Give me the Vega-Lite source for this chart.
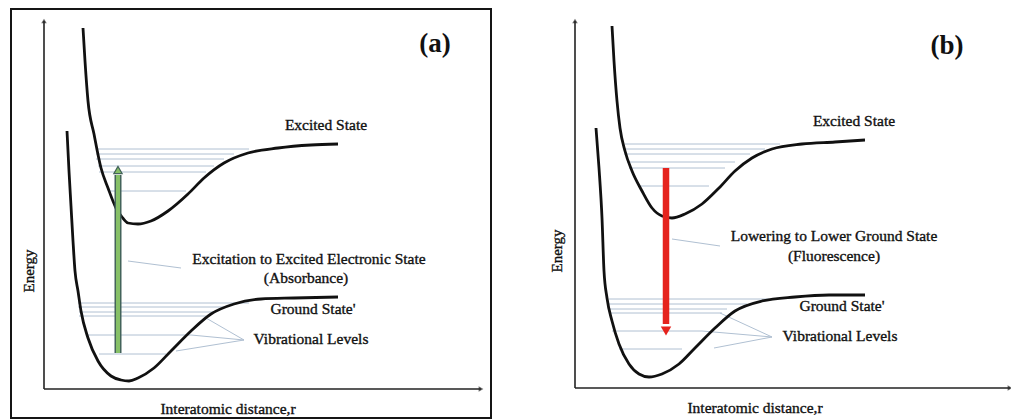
{
  "$schema": "https://vega.github.io/schema/vega-lite/v6.json",
  "padding": {"left": 10, "top": 8, "right": 0, "bottom": 2},
  "spacing": 48,
  "background": "white",
  "config": {
    "view": {"stroke": "#151515", "strokeWidth": 2},
    "font": "Liberation Serif",
    "text": {"font": "Liberation Serif", "color": "#111", "stroke": "#111", "strokeWidth": 0.35}
  },
  "datasets": {
    "curvesA": [
      {"state": "excited", "i": 0, "r": 39, "E": 361}, {"state": "excited", "i": 1, "r": 41, "E": 328},
      {"state": "excited", "i": 2, "r": 44, "E": 288}, {"state": "excited", "i": 3, "r": 50, "E": 255},
      {"state": "excited", "i": 4, "r": 57, "E": 221}, {"state": "excited", "i": 5, "r": 64, "E": 201},
      {"state": "excited", "i": 6, "r": 72, "E": 181}, {"state": "excited", "i": 7, "r": 78, "E": 172},
      {"state": "excited", "i": 8, "r": 84, "E": 166}, {"state": "excited", "i": 9, "r": 94, "E": 165},
      {"state": "excited", "i": 10, "r": 107, "E": 168}, {"state": "excited", "i": 11, "r": 124, "E": 178},
      {"state": "excited", "i": 12, "r": 144, "E": 195}, {"state": "excited", "i": 13, "r": 160, "E": 211},
      {"state": "excited", "i": 14, "r": 180, "E": 226}, {"state": "excited", "i": 15, "r": 204, "E": 236},
      {"state": "excited", "i": 16, "r": 234, "E": 241}, {"state": "excited", "i": 17, "r": 267, "E": 244},
      {"state": "excited", "i": 18, "r": 294, "E": 245},
      {"state": "ground", "i": 0, "r": 23, "E": 258}, {"state": "ground", "i": 1, "r": 25, "E": 218},
      {"state": "ground", "i": 2, "r": 27, "E": 183}, {"state": "ground", "i": 3, "r": 29, "E": 148},
      {"state": "ground", "i": 4, "r": 31, "E": 118}, {"state": "ground", "i": 5, "r": 34, "E": 98},
      {"state": "ground", "i": 6, "r": 37, "E": 78}, {"state": "ground", "i": 7, "r": 44, "E": 51},
      {"state": "ground", "i": 8, "r": 54, "E": 28}, {"state": "ground", "i": 9, "r": 67, "E": 13},
      {"state": "ground", "i": 10, "r": 77, "E": 9}, {"state": "ground", "i": 11, "r": 85, "E": 8},
      {"state": "ground", "i": 12, "r": 94, "E": 11}, {"state": "ground", "i": 13, "r": 110, "E": 21},
      {"state": "ground", "i": 14, "r": 127, "E": 38}, {"state": "ground", "i": 15, "r": 147, "E": 58},
      {"state": "ground", "i": 16, "r": 167, "E": 75}, {"state": "ground", "i": 17, "r": 190, "E": 85},
      {"state": "ground", "i": 18, "r": 217, "E": 90}, {"state": "ground", "i": 19, "r": 250, "E": 91},
      {"state": "ground", "i": 20, "r": 294, "E": 92}
    ],
    "levelsA": [
      {"state": "excited", "E": 240, "r0": 53, "r1": 205},
      {"state": "excited", "E": 235, "r0": 52, "r1": 190},
      {"state": "excited", "E": 230, "r0": 52, "r1": 180},
      {"state": "excited", "E": 223, "r0": 54, "r1": 170},
      {"state": "excited", "E": 217, "r0": 55, "r1": 162},
      {"state": "excited", "E": 198, "r0": 64, "r1": 142},
      {"state": "ground", "E": 86, "r0": 34, "r1": 205},
      {"state": "ground", "E": 82, "r0": 34, "r1": 182},
      {"state": "ground", "E": 77, "r0": 35, "r1": 172},
      {"state": "ground", "E": 73, "r0": 35, "r1": 162},
      {"state": "ground", "E": 54, "r0": 43, "r1": 147},
      {"state": "ground", "E": 35, "r0": 55, "r1": 122}
    ],
    "leadersA": [
      {"r": 84, "E": 128, "r2": 137, "E2": 121},
      {"r": 162, "E": 71, "r2": 200, "E2": 49},
      {"r": 147, "E": 54, "r2": 200, "E2": 49},
      {"r": 132, "E": 38, "r2": 200, "E2": 49}
    ],
    "axesA": [
      {"axis": "energy", "r": 0, "E": 0, "r2": 0, "E2": 368},
      {"axis": "distance", "r": 0, "E": 0, "r2": 437, "E2": 0}
    ],
    "transitionA": [{"name": "absorbance", "r": 74, "E0": 36, "E1": 214, "tip": 219}],
    "labelsA": [
      {"text": "Excited State", "r": 282, "E": 264},
      {"text": "Excitation to Excited Electronic State", "r": 265, "E": 130},
      {"text": "(Absorbance)", "r": 262, "E": 111},
      {"text": "Ground State'", "r": 269, "E": 80},
      {"text": "Vibrational Levels", "r": 267, "E": 50},
      {"text": "Interatomic distance,r", "r": 184, "E": -20}
    ],
    "tagA": [{"text": "(a)", "r": 391, "E": 345}],
    "energyA": [{"text": "Energy", "r": -15, "E": 118}],

    "curvesB": [
      {"state": "excited", "i": 0, "r": 37, "E": 362}, {"state": "excited", "i": 1, "r": 39, "E": 327},
      {"state": "excited", "i": 2, "r": 42, "E": 287}, {"state": "excited", "i": 3, "r": 45, "E": 260},
      {"state": "excited", "i": 4, "r": 50, "E": 237}, {"state": "excited", "i": 5, "r": 57, "E": 217},
      {"state": "excited", "i": 6, "r": 67, "E": 197}, {"state": "excited", "i": 7, "r": 77, "E": 180},
      {"state": "excited", "i": 8, "r": 87, "E": 172}, {"state": "excited", "i": 9, "r": 97, "E": 170},
      {"state": "excited", "i": 10, "r": 110, "E": 174}, {"state": "excited", "i": 11, "r": 127, "E": 184},
      {"state": "excited", "i": 12, "r": 144, "E": 200}, {"state": "excited", "i": 13, "r": 160, "E": 217},
      {"state": "excited", "i": 14, "r": 177, "E": 230}, {"state": "excited", "i": 15, "r": 197, "E": 239},
      {"state": "excited", "i": 16, "r": 227, "E": 244}, {"state": "excited", "i": 17, "r": 260, "E": 246},
      {"state": "excited", "i": 18, "r": 290, "E": 248},
      {"state": "ground", "i": 0, "r": 21, "E": 260}, {"state": "ground", "i": 1, "r": 24, "E": 220},
      {"state": "ground", "i": 2, "r": 27, "E": 170}, {"state": "ground", "i": 3, "r": 29, "E": 117},
      {"state": "ground", "i": 4, "r": 32, "E": 90}, {"state": "ground", "i": 5, "r": 37, "E": 67},
      {"state": "ground", "i": 6, "r": 44, "E": 44}, {"state": "ground", "i": 7, "r": 54, "E": 24},
      {"state": "ground", "i": 8, "r": 64, "E": 14}, {"state": "ground", "i": 9, "r": 74, "E": 11},
      {"state": "ground", "i": 10, "r": 87, "E": 14}, {"state": "ground", "i": 11, "r": 104, "E": 24},
      {"state": "ground", "i": 12, "r": 120, "E": 40}, {"state": "ground", "i": 13, "r": 140, "E": 60},
      {"state": "ground", "i": 14, "r": 160, "E": 77}, {"state": "ground", "i": 15, "r": 187, "E": 87},
      {"state": "ground", "i": 16, "r": 220, "E": 91}, {"state": "ground", "i": 17, "r": 254, "E": 93},
      {"state": "ground", "i": 18, "r": 290, "E": 93}
    ],
    "levelsB": [
      {"state": "excited", "E": 244, "r0": 50, "r1": 205},
      {"state": "excited", "E": 239, "r0": 49, "r1": 190},
      {"state": "excited", "E": 234, "r0": 49, "r1": 175},
      {"state": "excited", "E": 226, "r0": 52, "r1": 160},
      {"state": "excited", "E": 220, "r0": 54, "r1": 150},
      {"state": "excited", "E": 202, "r0": 64, "r1": 134},
      {"state": "ground", "E": 89, "r0": 34, "r1": 194},
      {"state": "ground", "E": 84, "r0": 34, "r1": 172},
      {"state": "ground", "E": 79, "r0": 34, "r1": 152},
      {"state": "ground", "E": 75, "r0": 35, "r1": 147},
      {"state": "ground", "E": 57, "r0": 37, "r1": 127},
      {"state": "ground", "E": 39, "r0": 44, "r1": 107}
    ],
    "leadersB": [
      {"r": 97, "E": 149, "r2": 145, "E2": 142},
      {"r": 145, "E": 75, "r2": 197, "E2": 51},
      {"r": 127, "E": 57, "r2": 197, "E2": 51},
      {"r": 139, "E": 40, "r2": 197, "E2": 51}
    ],
    "axesB": [
      {"axis": "energy", "r": 0, "E": 0, "r2": 0, "E2": 367},
      {"axis": "distance", "r": 0, "E": 0, "r2": 435, "E2": 0}
    ],
    "transitionB": [{"name": "fluorescence", "r": 91, "E0": 220, "E1": 64, "tip": 57}],
    "labelsB": [
      {"text": "Excited State", "r": 279, "E": 267},
      {"text": "Lowering to Lower Ground State", "r": 259, "E": 152},
      {"text": "(Fluorescence)", "r": 259, "E": 132},
      {"text": "Ground State'", "r": 267, "E": 82},
      {"text": "Vibrational Levels", "r": 265, "E": 52},
      {"text": "Interatomic distance,r", "r": 180, "E": -20}
    ],
    "tagB": [{"text": "(b)", "r": 372, "E": 342}],
    "energyB": [{"text": "Energy", "r": -18, "E": 137}]
  },
  "hconcat": [
    {
      "width": 480,
      "height": 409,
      "encoding": {
        "x": {"field": "r", "type": "quantitative", "scale": {"domain": [-33, 447], "nice": false, "zero": false}, "axis": null},
        "y": {"field": "E", "type": "quantitative", "scale": {"domain": [-29, 380], "nice": false, "zero": false}, "axis": null}
      },
      "layer": [
        {
          "data": {"name": "levelsA"},
          "mark": {"type": "rule", "stroke": "#b0c0d2", "strokeWidth": 1},
          "encoding": {"x": {"field": "r0", "type": "quantitative"}, "x2": {"field": "r1"}, "y": {"field": "E", "type": "quantitative"}}
        },
        {
          "data": {"name": "leadersA"},
          "mark": {"type": "rule", "stroke": "#b0c0d2", "strokeWidth": 1},
          "encoding": {"x2": {"field": "r2"}, "y2": {"field": "E2"}}
        },
        {
          "data": {"name": "curvesA"},
          "mark": {"type": "line", "stroke": "#111", "strokeWidth": 2.8, "interpolate": "monotone"},
          "encoding": {"detail": {"field": "state"}, "order": {"field": "i", "type": "quantitative"}}
        },
        {
          "data": {"name": "axesA"},
          "mark": {"type": "rule", "stroke": "#222", "strokeWidth": 1.6},
          "encoding": {"x2": {"field": "r2"}, "y2": {"field": "E2"}}
        },
        {
          "data": {"name": "axesA"},
          "transform": [{"filter": "datum.axis === 'energy'"}],
          "mark": {"type": "point", "shape": "triangle-up", "filled": true, "color": "#222", "size": 30},
          "encoding": {"x": {"field": "r2", "type": "quantitative"}, "y": {"field": "E2", "type": "quantitative"}}
        },
        {
          "data": {"name": "axesA"},
          "transform": [{"filter": "datum.axis === 'distance'"}],
          "mark": {"type": "point", "shape": "triangle-right", "filled": true, "color": "#222", "size": 30},
          "encoding": {"x": {"field": "r2", "type": "quantitative"}, "y": {"field": "E2", "type": "quantitative"}}
        },
        {
          "data": {"name": "transitionA"},
          "mark": {"type": "rule", "stroke": "#43635a", "strokeWidth": 7},
          "encoding": {"y": {"field": "E0", "type": "quantitative"}, "y2": {"field": "E1"}}
        },
        {
          "data": {"name": "transitionA"},
          "mark": {"type": "rule", "stroke": "#86c067", "strokeWidth": 4},
          "encoding": {"y": {"field": "E0", "type": "quantitative"}, "y2": {"field": "E1"}}
        },
        {
          "data": {"name": "transitionA"},
          "mark": {"type": "point", "shape": "triangle-up", "filled": true, "fill": "#86c067", "stroke": "#43635a", "strokeWidth": 1.2, "opacity": 1, "size": 70},
          "encoding": {"y": {"field": "tip", "type": "quantitative"}}
        },
        {
          "data": {"name": "labelsA"},
          "mark": {"type": "text", "fontSize": 15.5, "align": "center", "baseline": "middle"},
          "encoding": {"text": {"field": "text"}}
        },
        {
          "data": {"name": "tagA"},
          "mark": {"type": "text", "fontSize": 27, "fontWeight": "bold", "align": "center", "baseline": "middle", "strokeWidth": 0},
          "encoding": {"text": {"field": "text"}}
        },
        {
          "data": {"name": "energyA"},
          "mark": {"type": "text", "fontSize": 15, "angle": 270, "align": "center", "baseline": "middle"},
          "encoding": {"text": {"field": "text"}}
        }
      ]
    },
    {
      "width": 473,
      "height": 409,
      "view": {"stroke": null},
      "encoding": {
        "x": {"field": "r", "type": "quantitative", "scale": {"domain": [-35, 438], "nice": false, "zero": false}, "axis": null},
        "y": {"field": "E", "type": "quantitative", "scale": {"domain": [-30, 379], "nice": false, "zero": false}, "axis": null}
      },
      "layer": [
        {
          "data": {"values": [{"edge": "left"}]},
          "mark": {"type": "rule", "stroke": "#151515", "strokeWidth": 2},
          "encoding": {"x": {"datum": -35}, "y": null}
        },
        {
          "data": {"values": [{"edge": "top"}]},
          "mark": {"type": "rule", "stroke": "#151515", "strokeWidth": 2},
          "encoding": {"y": {"datum": 379}, "x": null}
        },
        {
          "data": {"name": "levelsB"},
          "mark": {"type": "rule", "stroke": "#b0c0d2", "strokeWidth": 1},
          "encoding": {"x": {"field": "r0", "type": "quantitative"}, "x2": {"field": "r1"}, "y": {"field": "E", "type": "quantitative"}}
        },
        {
          "data": {"name": "leadersB"},
          "mark": {"type": "rule", "stroke": "#b0c0d2", "strokeWidth": 1},
          "encoding": {"x2": {"field": "r2"}, "y2": {"field": "E2"}}
        },
        {
          "data": {"name": "curvesB"},
          "mark": {"type": "line", "stroke": "#111", "strokeWidth": 2.8, "interpolate": "monotone"},
          "encoding": {"detail": {"field": "state"}, "order": {"field": "i", "type": "quantitative"}}
        },
        {
          "data": {"name": "axesB"},
          "mark": {"type": "rule", "stroke": "#222", "strokeWidth": 1.6},
          "encoding": {"x2": {"field": "r2"}, "y2": {"field": "E2"}}
        },
        {
          "data": {"name": "axesB"},
          "transform": [{"filter": "datum.axis === 'energy'"}],
          "mark": {"type": "point", "shape": "triangle-up", "filled": true, "color": "#222", "size": 30},
          "encoding": {"x": {"field": "r2", "type": "quantitative"}, "y": {"field": "E2", "type": "quantitative"}}
        },
        {
          "data": {"name": "axesB"},
          "transform": [{"filter": "datum.axis === 'distance'"}],
          "mark": {"type": "point", "shape": "triangle-right", "filled": true, "color": "#222", "size": 30},
          "encoding": {"x": {"field": "r2", "type": "quantitative"}, "y": {"field": "E2", "type": "quantitative"}}
        },
        {
          "data": {"name": "transitionB"},
          "mark": {"type": "rule", "stroke": "#e5231d", "strokeWidth": 6.5},
          "encoding": {"y": {"field": "E0", "type": "quantitative"}, "y2": {"field": "E1"}}
        },
        {
          "data": {"name": "transitionB"},
          "mark": {"type": "point", "shape": "triangle-down", "filled": true, "color": "#e5231d", "opacity": 1, "size": 110},
          "encoding": {"y": {"field": "tip", "type": "quantitative"}}
        },
        {
          "data": {"name": "labelsB"},
          "mark": {"type": "text", "fontSize": 15.5, "align": "center", "baseline": "middle"},
          "encoding": {"text": {"field": "text"}}
        },
        {
          "data": {"name": "tagB"},
          "mark": {"type": "text", "fontSize": 27, "fontWeight": "bold", "align": "center", "baseline": "middle", "strokeWidth": 0},
          "encoding": {"text": {"field": "text"}}
        },
        {
          "data": {"name": "energyB"},
          "mark": {"type": "text", "fontSize": 15, "angle": 270, "align": "center", "baseline": "middle"},
          "encoding": {"text": {"field": "text"}}
        }
      ]
    }
  ]
}
